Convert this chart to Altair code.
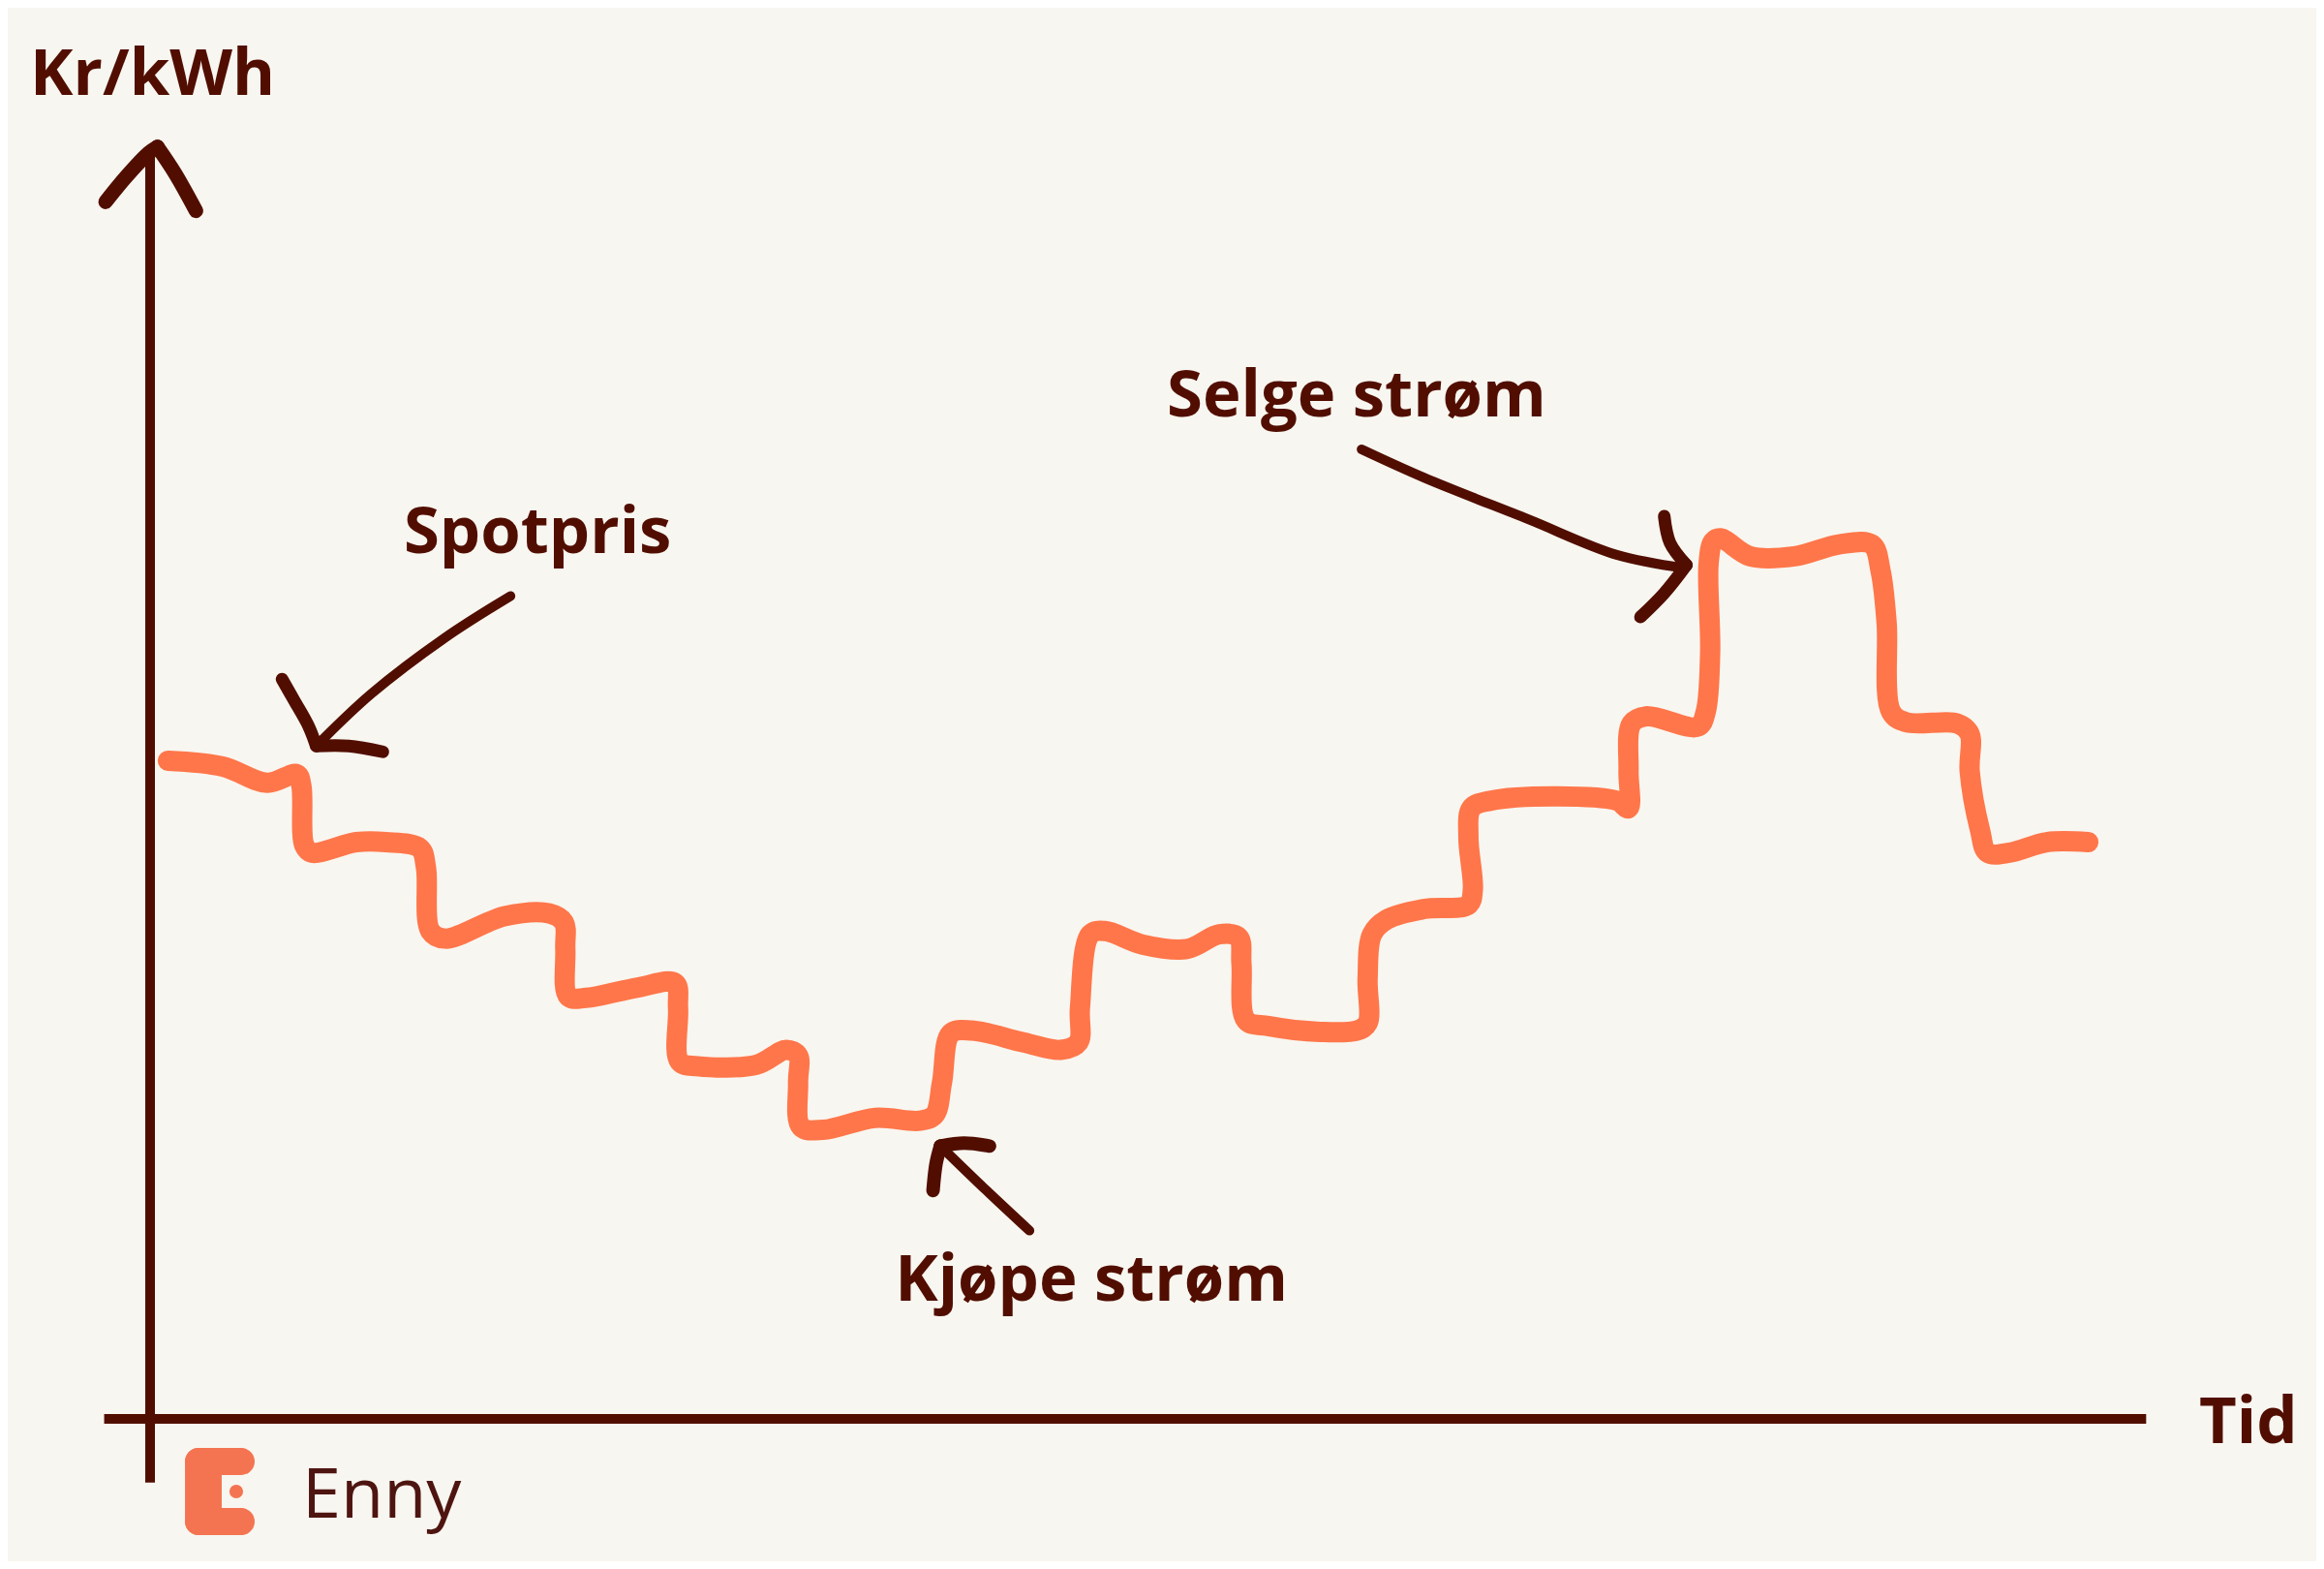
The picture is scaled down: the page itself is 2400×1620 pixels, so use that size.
import altair as alt
import pandas as pd

# ---- colours
BG = "#F8F6F0"
ORANGE = "#FF764A"
BROWN = "#510E00"
LOGO = "#F47452"
LOGO_TEXT = "#4E1510"

# ---- spot price curve (Tid in hours, Kr/kWh)
tid = [0.137, 0.560, 0.903, 1.131, 1.166, 1.189,
       1.246, 1.589, 1.817, 2.080, 2.126, 2.160,
       2.274, 2.731, 3.074, 3.189, 3.200, 3.223,
       3.360, 3.760, 4.046, 4.069, 4.080,
       4.217, 4.674, 4.903, 4.994, 4.994, 5.017,
       5.189, 5.589, 5.931, 6.046, 6.103, 6.171,
       6.331, 6.731, 7.017, 7.154, 7.166, 7.246,
       7.360, 7.646, 7.989, 8.240, 8.389, 8.411, 8.446,
       8.617, 9.017, 9.303, 9.383, 9.383, 9.417,
       9.531, 9.817, 10.160, 10.194, 10.160, 10.183,
       10.331, 10.846, 11.303, 11.394, 11.394, 11.417,
       11.531, 11.931, 11.989, 12.023, 12.011, 12.046,
       12.103, 12.331, 12.674, 13.017, 13.269, 13.337, 13.383, 13.417,
       13.531, 13.931, 14.023, 14.023, 14.103, 14.160,
       14.331, 14.617, 14.937]
pris = [2.265, 2.245, 2.189, 2.219, 2.179, 1.974,
        1.949, 1.985, 1.985, 1.964, 1.898, 1.679,
        1.653, 1.730, 1.740, 1.709, 1.617, 1.454,
        1.449, 1.485, 1.500, 1.413, 1.230,
        1.214, 1.219, 1.270, 1.250, 1.158, 1.005,
        0.995, 1.036, 1.026, 1.046, 1.158, 1.327,
        1.337, 1.296, 1.270, 1.296, 1.413, 1.668,
        1.679, 1.633, 1.617, 1.668, 1.658, 1.566, 1.372,
        1.352, 1.332, 1.337, 1.362, 1.515, 1.668,
        1.719, 1.755, 1.770, 1.821, 2.000, 2.102,
        2.128, 2.143, 2.128, 2.102, 2.230, 2.393,
        2.418, 2.383, 2.434, 2.638, 2.944, 3.020,
        3.031, 2.969, 2.969, 3.010, 3.010, 2.918, 2.740, 2.434,
        2.398, 2.393, 2.357, 2.230, 2.026, 1.949,
        1.949, 1.985, 1.985]

# ---- hand-drawn annotation arrows
spot_shaft_t = [2.777, 2.274, 1.703, 1.280]
spot_shaft_p = [2.832, 2.689, 2.495, 2.316]
spot_head1_t = [1.017, 1.109, 1.223, 1.280]
spot_head1_p = [2.546, 2.474, 2.383, 2.316]
spot_head2_t = [1.280, 1.531, 1.794]
spot_head2_p = [2.316, 2.316, 2.296]

kjop_shaft_t = [6.777, 6.446, 6.091]
kjop_shaft_p = [0.648, 0.786, 0.939]
kjop_head1_t = [6.034, 6.057, 6.091]
kjop_head1_p = [0.786, 0.878, 0.939]
kjop_head2_t = [6.091, 6.274, 6.469]
kjop_head2_p = [0.939, 0.949, 0.939]

selg_shaft_t = [9.337, 9.817, 10.617, 11.303, 11.817]
selg_shaft_p = [3.337, 3.240, 3.097, 2.974, 2.929]
selg_head1_t = [11.669, 11.714, 11.840]
selg_head1_p = [3.107, 3.015, 2.939]
selg_head2_t = [11.840, 11.669, 11.486]
selg_head2_p = [2.939, 2.842, 2.760]

yhead1_t = [-0.343, -0.183, -0.011, 0.057]
yhead1_p = [4.189, 4.276, 4.357, 4.378]
yhead2_t = [0.057, 0.194, 0.354]
yhead2_p = [4.378, 4.286, 4.158]

# ---- axes
yaxis_t = [0.0, 0.0]
yaxis_p = [-0.219, 4.357]
xaxis_t = [-0.354, 15.383]
xaxis_p = [0.0, 0.0]

# ---- labels
label_text = ["Kr/kWh", "Tid", "Spotpris", "Selge strøm", "Kjøpe strøm"]
label_t = [-0.925, 15.791, 1.955, 7.836, 5.740]
label_p = [4.557, -0.083, 2.980, 3.450, 0.407]

# ---- logo
logo_x1 = [0.269, 0.269, 0.269]
logo_x2 = [0.552, 0.806, 0.806]
logo_y1 = [-0.100, -0.100, -0.307]
logo_y2 = [-0.400, -0.193, -0.400]
dot_t = [0.664]
dot_p = [-0.250]
brand_text = ["Enny"]
brand_t = [1.172]
brand_p = [-0.340]

W, H = 2384, 1604
xs = alt.Scale(domain=[-1.097, 16.694], nice=False, zero=False)
ys = alt.Scale(domain=[-0.490, 4.857], nice=False, zero=False)


def strokes(parts):
    rows = []
    for name, ts, ps, w in parts:
        for i, (t, p) in enumerate(zip(ts, ps)):
            rows.append({"stroke": name, "i": i, "t": t, "p": p, "w": w})
    return pd.DataFrame(rows)


curve_df = pd.DataFrame({"i": range(len(tid)), "t": tid, "p": pris})
arrow_df = strokes([
    ("spot_shaft", spot_shaft_t, spot_shaft_p, 10),
    ("spot_h1", spot_head1_t, spot_head1_p, 13),
    ("spot_h2", spot_head2_t, spot_head2_p, 13),
    ("kjop_shaft", kjop_shaft_t, kjop_shaft_p, 10),
    ("kjop_h1", kjop_head1_t, kjop_head1_p, 14),
    ("kjop_h2", kjop_head2_t, kjop_head2_p, 14),
    ("selg_shaft", selg_shaft_t, selg_shaft_p, 10),
    ("selg_h1", selg_head1_t, selg_head1_p, 13),
    ("selg_h2", selg_head2_t, selg_head2_p, 13),
    ("y_h1", yhead1_t, yhead1_p, 15),
    ("y_h2", yhead2_t, yhead2_p, 15),
])
axes_df = strokes([
    ("yaxis", yaxis_t, yaxis_p, 10),
    ("xaxis", xaxis_t, xaxis_p, 10),
])
label_df = pd.DataFrame({"text": label_text, "t": label_t, "p": label_p})
logo_df = pd.DataFrame({"x1": logo_x1, "x2": logo_x2, "y1": logo_y1, "y2": logo_y2})
dot_df = pd.DataFrame({"t": dot_t, "p": dot_p})
brand_df = pd.DataFrame({"text": brand_text, "t": brand_t, "p": brand_p})

X = alt.X("t:Q", scale=xs, axis=None)
Y = alt.Y("p:Q", scale=ys, axis=None)

axes = alt.Chart(axes_df).mark_line(color=BROWN, strokeCap="butt").encode(
    X, Y, detail="stroke:N", order="i:Q", strokeWidth=alt.StrokeWidth("w:Q", scale=None)
)

curve = alt.Chart(curve_df).mark_line(
    color=ORANGE, strokeWidth=21, strokeCap="round", strokeJoin="round",
    interpolate="catmull-rom",
).encode(X, Y, order="i:Q")

arrows = alt.Chart(arrow_df).mark_line(
    color=BROWN, strokeCap="round", strokeJoin="round", interpolate="catmull-rom"
).encode(X, Y, detail="stroke:N", order="i:Q", strokeWidth=alt.StrokeWidth("w:Q", scale=None))

labels = alt.Chart(label_df).mark_text(
    font="Open Sans", fontWeight="bold", fontSize=67, color=BROWN,
    align="left", baseline="alphabetic",
).encode(X, Y, text="text:N")

logo = alt.Chart(logo_df).mark_rect(color=LOGO, cornerRadius=14).encode(
    x=alt.X("x1:Q", scale=xs, axis=None), x2="x2:Q",
    y=alt.Y("y1:Q", scale=ys, axis=None), y2="y2:Q",
)
dot = alt.Chart(dot_df).mark_circle(color=LOGO, size=200, opacity=1).encode(X, Y)
brand = alt.Chart(brand_df).mark_text(
    font="Open Sans", fontWeight=500, fontSize=72, color=LOGO_TEXT,
    align="left", baseline="alphabetic",
).encode(X, Y, text="text:N")

chart = alt.layer(axes, curve, arrows, labels, logo, dot, brand).properties(
    width=W, height=H, background=BG, padding=0,
    autosize=alt.AutoSizeParams(type="fit", contains="padding"),
).configure_view(stroke=None)

chart.save("out.html", embed_options={"renderer": "svg", "actions": False})
